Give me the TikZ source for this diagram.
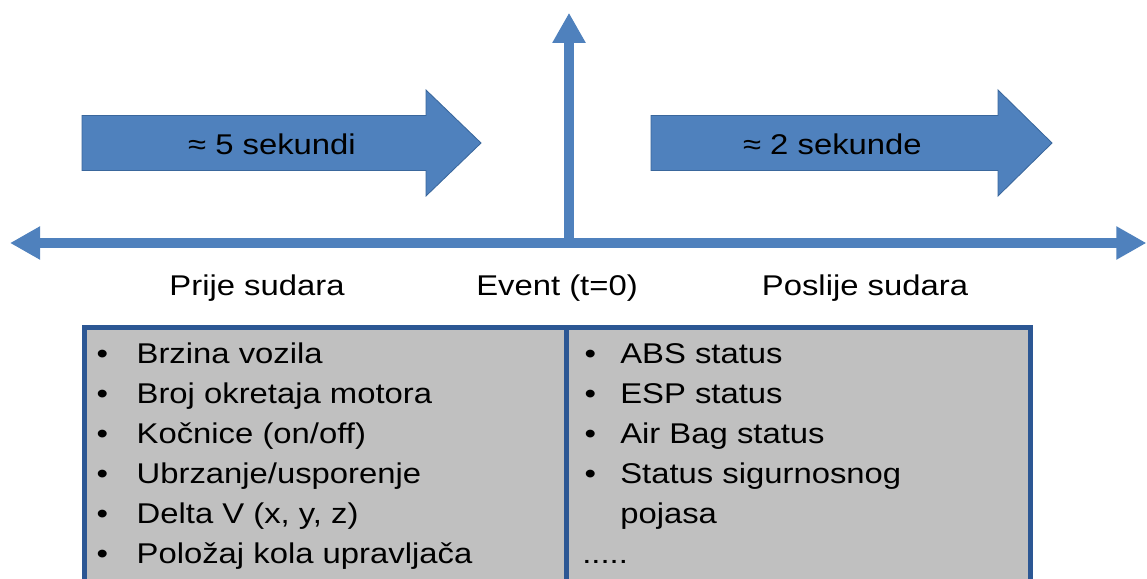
\documentclass[tikz,border=0pt]{standalone}
\usepackage{fontspec}
\setmainfont{Liberation Sans}[FakeStretch=1.15]
\usetikzlibrary{arrows.meta,positioning}
\definecolor{axisblue}{HTML}{4F81BD}
\definecolor{edgeblue}{HTML}{3A679C}
\definecolor{rimblue}{HTML}{2C5794}
\definecolor{cellgray}{HTML}{C0C0C0}
\newcommand{\itembul}[1]{\makebox[#1][l]{\textbullet}}

\begin{document}
\begin{tikzpicture}[
  font=\fontsize{20.3pt}{24pt}\selectfont, black,
  >={Triangle[length=0.75cm, width=0.78cm]},
  axis/.style={draw=axisblue, line width=0.26cm},
  span/.style={fill=axisblue, draw=edgeblue, line width=0.6pt},
  cell/.style={draw=rimblue, fill=cellgray, line width=0.125cm,
               inner sep=0pt, outer sep=0pt, anchor=north west},
  phase/.style={anchor=base, inner sep=0pt},
  entry/.style={anchor=base west, inner sep=0pt},
]
\useasboundingbox (0,0) rectangle (28.675,14.45);

% ---- time axis and the crash instant ---------------------------------------
\coordinate (past)   at (0.25,8.375);
\coordinate (future) at (28.66,8.375);
\coordinate (now)    at (14.225,8.375);
\coordinate (up)     at (14.225,14.13);

\draw[axis, <->] (past) -- (future);
\draw[axis, ->] (now) -- (up);

% ---- recording windows -----------------------------------------------------
\draw[span] (2.05,10.1875) -- (10.65,10.1875) -- (10.65,9.55) -- (12.025,10.875)
  -- (10.65,12.2) -- (10.65,11.5625) -- (2.05,11.5625) -- cycle;
\node[phase] (five) at (6.8,10.6) {≈ 5 sekundi};

\draw[span] (16.275,10.1875) -- (24.95,10.1875) -- (24.95,9.55) -- (26.3,10.875)
  -- (24.95,12.2) -- (24.95,11.5625) -- (16.275,11.5625) -- cycle;
\node[phase] (two) at (20.81,10.6) {≈ 2 sekunde};

\node[phase] (before) at (6.425,7.075)  {Prije sudara};
\node[phase] (event)  at (13.925,7.075) {Event (t=0)};
\node[phase] (after)  at (21.625,7.075) {Poslije sudara};

% ---- recorded data ---------------------------------------------------------
\node[cell, minimum width=12.05cm, minimum height=6.9cm] (precell) at (2.1,6.2625) {};
\node[cell, minimum width=11.6cm, minimum height=6.9cm] (postcell) at (precell.north east) {};

\node[entry] (pre1) at (2.41,5.375) {\itembul{1.0cm}Brzina vozila};
\node[entry] (pre2) at (2.41,4.375) {\itembul{1.0cm}Broj okretaja motora};
\node[entry] (pre3) at (2.41,3.375) {\itembul{1.0cm}Kočnice (on/off)};
\node[entry] (pre4) at (2.41,2.375) {\itembul{1.0cm}Ubrzanje/usporenje};
\node[entry] (pre5) at (2.41,1.375) {\itembul{1.0cm}Delta V (x, y, z)};
\node[entry] (pre6) at (2.41,0.375) {\itembul{1.0cm}Položaj kola upravljača};

\node[entry] (post1) at (14.61,5.375) {\itembul{0.89cm}ABS status};
\node[entry] (post2) at (14.61,4.375) {\itembul{0.89cm}ESP status};
\node[entry] (post3) at (14.61,3.375) {\itembul{0.89cm}Air Bag status};
\node[entry] (post4) at (14.61,2.375) {\itembul{0.89cm}Status sigurnosnog};
\node[entry] (postwrap) at (15.5,1.375) {pojasa};
\node[entry] (postmore) at (14.55,0.375) {.....};

\end{tikzpicture}
\end{document}
